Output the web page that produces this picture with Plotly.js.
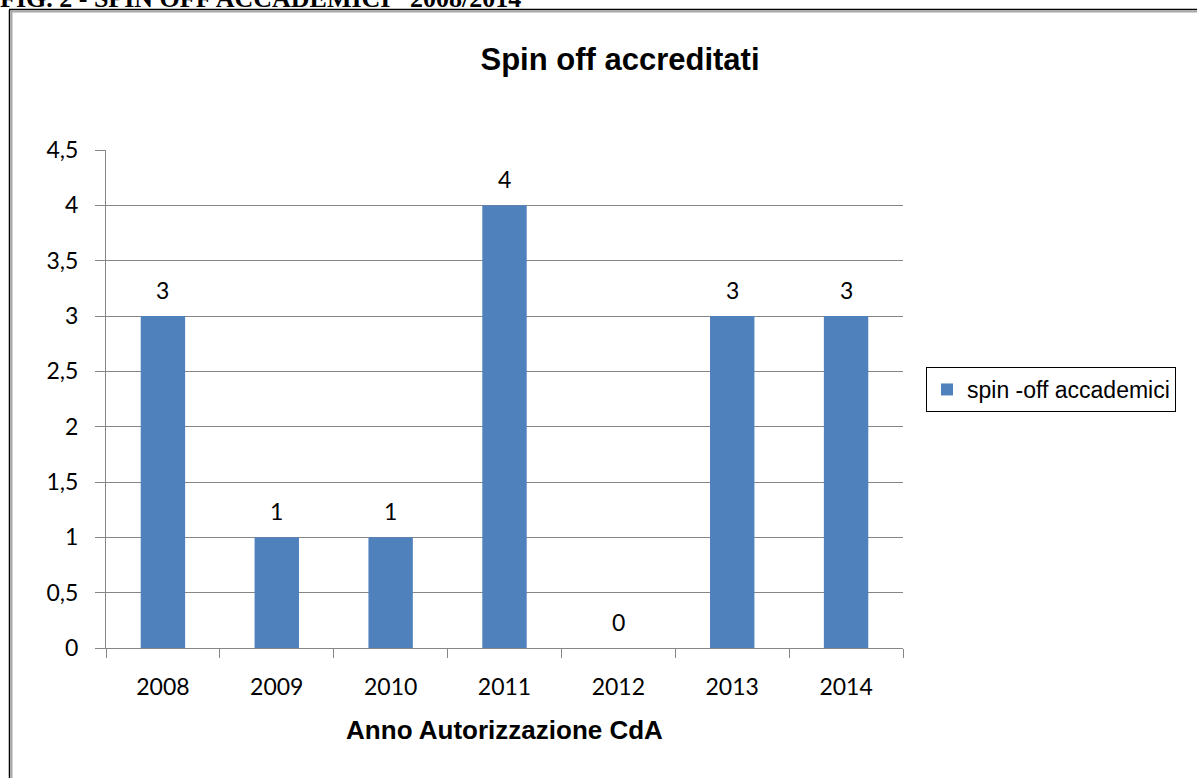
<!DOCTYPE html>
<html>
<head>
<meta charset="utf-8">
<script src="https://cdn.plot.ly/plotly-3.0.1.min.js"></script>
<style>
  html, body { margin: 0; padding: 0; background: #fff; }
  #chart { width: 1197px; height: 778px; }
</style>
</head>
<body>
<div id="chart"></div>
<script>
// ---- data ----
var years = ['2008', '2009', '2010', '2011', '2012', '2013', '2014'];
var spinOff = [3, 1, 1, 4, 0, 3, 3];
var seriesName = 'spin -off accademici';
var yTickVals = [0, 0.5, 1, 1.5, 2, 2.5, 3, 3.5, 4, 4.5];
var yTickText = ['0', '0,5', '1', '1,5', '2', '2,5', '3', '3,5', '4', '4,5'];
var chartTitle = 'Spin off accreditati';
var xTitle = 'Anno Autorizzazione CdA';
var headerText = 'FIG. 2 - SPIN OFF ACCADEMICI\u00a0\u00a0 2008/2014';

// ---- geometry (pixels) ----
var W = 1197, H = 778;
var L = 106, R = 903, T = 150, B = 648;
function px(x) { return (x - L) / (R - L); }
function py(y) { return (B - y) / (B - T); }

var tickFont = { family: 'Lato, "Open Sans", sans-serif', size: 23, color: '#000' };

var labels = years.map(function (yr, i) {
  return {
    x: i, y: spinOff[i], xref: 'x', yref: 'y',
    text: String(spinOff[i]), showarrow: false,
    yanchor: 'middle', yshift: 26,
    font: tickFont
  };
});

labels.push({
  x: px(-2), y: py(15), xref: 'paper', yref: 'paper',
  xanchor: 'left', yanchor: 'bottom', showarrow: false,
  text: headerText,
  font: { family: '"Liberation Serif", "Times New Roman", serif', size: 26, color: '#000', weight: 'bold' }
});

var trace = {
  type: 'bar',
  x: years,
  y: spinOff,
  name: seriesName,
  showlegend: true,
  marker: { color: '#4F81BD', line: { width: 0 } },
  hoverinfo: 'none'
};

var layout = {
  width: W, height: H,
  margin: { l: L, r: W - R, t: T, b: H - B, pad: 0 },
  paper_bgcolor: '#fff', plot_bgcolor: '#fff',
  bargap: 0.61,
  showlegend: true,
  title: {
    text: chartTitle,
    x: 620 / W, xanchor: 'center', xref: 'container',
    y: 1 - 59 / H, yanchor: 'middle', yref: 'container',
    font: { family: 'Arial, "Liberation Sans", sans-serif', size: 31, color: '#000', weight: 'bold' }
  },
  xaxis: {
    type: 'category',
    categoryorder: 'array', categoryarray: years,
    range: [-0.5, years.length - 0.5],
    showline: true, linecolor: '#868686', linewidth: 1,
    ticks: 'outside', tickson: 'boundaries', ticklen: 9, tickcolor: '#868686', tickwidth: 1,
    showgrid: false, zeroline: false,
    tickangle: 0,
    tickfont: tickFont,
    ticklabelstandoff: 18,
    title: {
      text: xTitle, standoff: 22,
      font: { family: 'Arial, "Liberation Sans", sans-serif', size: 26, color: '#000', weight: 'bold' }
    }
  },
  yaxis: {
    range: [0, 4.5],
    tickvals: yTickVals, ticktext: yTickText,
    showline: true, linecolor: '#868686', linewidth: 1,
    ticks: 'outside', ticklen: 10, tickcolor: '#868686', tickwidth: 1,
    showgrid: true, gridcolor: '#868686', gridwidth: 1,
    zeroline: false,
    tickfont: tickFont,
    ticklabelstandoff: 12
  },
  legend: {
    x: px(926), y: py(367), xanchor: 'left', yanchor: 'top',
    bordercolor: '#000', borderwidth: 1, bgcolor: '#fff',
    font: { family: 'Arial, "Liberation Sans", sans-serif', size: 23, color: '#000' }
  },
  annotations: labels,
  shapes: [
    { type: 'line', xref: 'paper', yref: 'paper', x0: px(9.5), x1: px(9.5), y0: py(10), y1: py(800), line: { color: '#000', width: 1.5 } },
    { type: 'line', xref: 'paper', yref: 'paper', x0: px(11.5), x1: px(11.5), y0: py(11), y1: py(800), line: { color: '#a8a8a8', width: 2 } },
    { type: 'line', xref: 'paper', yref: 'paper', x0: px(9), x1: px(1200), y0: py(9.5), y1: py(9.5), line: { color: '#000', width: 1.5 } },
    { type: 'line', xref: 'paper', yref: 'paper', x0: px(11), x1: px(1200), y0: py(11.5), y1: py(11.5), line: { color: '#a8a8a8', width: 2 } }
  ]
};

Plotly.newPlot('chart', [trace], layout, { staticPlot: true, displayModeBar: false });
</script>
</body>
</html>
